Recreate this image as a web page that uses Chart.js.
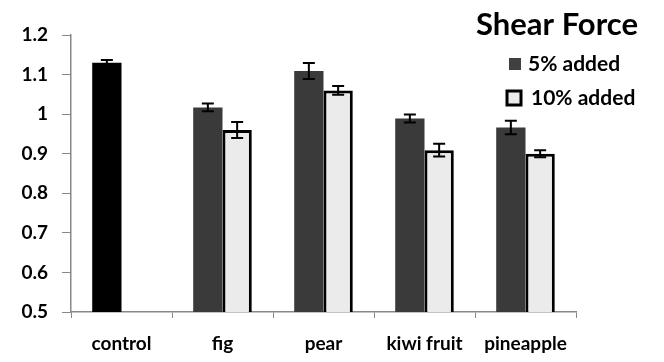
<!DOCTYPE html>
<html>
<head>
<meta charset="utf-8">
<script src="https://cdn.jsdelivr.net/npm/chart.js@4"></script>
<style>
  html, body { margin: 0; padding: 0; background: #fff; }
  #wrap { width: 664px; height: 362px; position: relative; }
</style>
</head>
<body>
<div id="wrap"><canvas id="chart"></canvas></div>
<script>
const categories = ['control', 'fig', 'pear', 'kiwi fruit', 'pineapple'];
const added5 = [1.13, 1.017, 1.109, 0.989, 0.966];
const added5Err = [0.007, 0.01, 0.02, 0.01, 0.017];
const added10 = [null, 0.96, 1.06, 0.909, 0.9];
const added10Err = [null, 0.02, 0.011, 0.016, 0.009];
const yTicks = [0.5, 0.6, 0.7, 0.8, 0.9, 1, 1.1, 1.2];

const FONT = 'Lato, "Open Sans", sans-serif';

// error bars + title + legend drawn on top of the bars
const extras = {
  id: 'extras',
  afterDatasetsDraw(chart) {
    const c = chart.ctx;
    const y = chart.scales.y;
    const errs = [added5Err, added10Err];
    c.save();
    c.strokeStyle = '#000';
    c.lineWidth = 2;
    chart.data.datasets.forEach((ds, i) => {
      const meta = chart.getDatasetMeta(i);
      meta.data.forEach((bar, j) => {
        const v = ds.data[j];
        const e = errs[i][j];
        if (v == null || e == null) return;
        const x = bar.x;
        const top = y.getPixelForValue(v + e);
        const bot = y.getPixelForValue(v - e);
        c.beginPath();
        c.moveTo(x, top); c.lineTo(x, bot);
        c.moveTo(x - 6, top); c.lineTo(x + 6, top);
        c.moveTo(x - 6, bot); c.lineTo(x + 6, bot);
        c.stroke();
      });
    });

    // title
    c.fillStyle = '#000';
    c.font = 'bold 31px ' + FONT;
    c.textAlign = 'center';
    c.textBaseline = 'middle';
    c.fillText('Shear Force', 557, 25);

    // legend
    c.font = 'bold 21px ' + FONT;
    c.textAlign = 'left';
    c.fillStyle = '#404040';
    c.fillRect(509, 58, 12, 12);
    c.fillStyle = '#000';
    c.fillText('5% added', 528, 64);

    c.fillStyle = '#ebebeb';
    c.fillRect(507, 91, 14, 14);
    c.lineWidth = 3;
    c.strokeRect(507, 91, 14, 14);
    c.fillStyle = '#000';
    c.fillText('10% added', 531, 98);
    c.restore();
  }
};

new Chart(document.getElementById('chart'), {
  type: 'bar',
  data: {
    labels: categories,
    datasets: [
      {
        label: '5% added',
        data: added5,
        backgroundColor: ['#000000', '#3a3a3a', '#3a3a3a', '#3a3a3a', '#3a3a3a'],
        borderWidth: 0
      },
      {
        label: '10% added',
        data: added10,
        backgroundColor: '#ebebeb',
        borderColor: '#000',
        borderWidth: 3
      }
    ]
  },
  options: {
    responsive: true,
    maintainAspectRatio: false,
    animation: false,
    categoryPercentage: 0.58,
    barPercentage: 1,
    layout: { padding: { left: 0, right: 88, top: 35, bottom: 0 } },
    plugins: {
      legend: { display: false },
      tooltip: { enabled: false }
    },
    scales: {
      x: {
        grid: { drawOnChartArea: false, color: '#888', tickLength: 6 },
        border: { color: '#888', width: 1.5 },
        ticks: {
          color: '#000',
          padding: 14,
          font: { family: FONT, weight: 'bold', size: 19 }
        },
        afterFit(scale) { scale.height = 50; }
      },
      y: {
        min: 0.5,
        max: 1.2,
        afterBuildTicks(scale) { scale.ticks = yTicks.map(v => ({ value: v })); },
        grid: { drawOnChartArea: false, color: '#888', tickLength: 9 },
        border: { color: '#888', width: 1.5 },
        ticks: {
          color: '#000',
          padding: 14,
          font: { family: FONT, weight: 'bold', size: 19 },
          callback: v => String(v)
        },
        afterFit(scale) { scale.width = 71; }
      }
    }
  },
  plugins: [extras]
});
</script>
</body>
</html>
